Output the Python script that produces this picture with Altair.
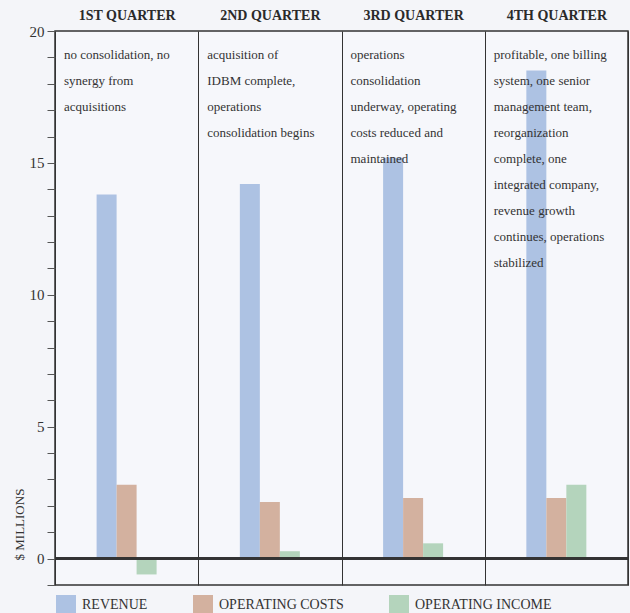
import altair as alt
import pandas as pd

quarters = ["1st Quarter", "2nd Quarter", "3rd Quarter", "4th Quarter"]
series = ["Revenue", "Operating Costs", "Operating Income"]
revenue = [13.8, 14.2, 15.2, 18.5]
op_costs = [2.8, 2.15, 2.3, 2.3]
op_income = [-0.6, 0.28, 0.58, 2.8]
notes = [
    "no consolidation, no\nsynergy from\nacquisitions",
    " acquisition of\nIDBM complete,\noperations\nconsolidation begins",
    "operations\nconsolidation\nunderway, operating\ncosts reduced and\nmaintained",
    "profitable, one billing\nsystem, one senior\nmanagement team,\nreorganization\ncomplete, one\nintegrated company,\nrevenue growth\ncontinues, operations\nstabilized",
]
colors = ["#adc2e3", "#d3b19f", "#b4d4bc"]

rows = []
for i, q in enumerate(quarters):
    for s, vals in zip(series, [revenue, op_costs, op_income]):
        rows.append({"quarter": q, "series": s, "value": vals[i]})
bars_df = pd.DataFrame(rows)
notes_df = pd.DataFrame({"quarter": quarters, "note": notes})

FONT = "Liberation Serif"

xscale = alt.Scale(domain=quarters, paddingInner=0, paddingOuter=0)
yscale = alt.Scale(domain=[-1, 20], nice=False, zero=False)

bars = alt.Chart(bars_df).mark_bar().encode(
    x=alt.X("quarter:N", scale=xscale, sort=quarters,
            axis=alt.Axis(orient="top", title=None, ticks=False, domain=False,
                          grid=True, tickBand="extent", gridColor="#333333",
                          gridOpacity=1, gridWidth=1, labelAngle=0,
                          labelExpr="upper(datum.label)", labelFont=FONT,
                          labelFontSize=14, labelFontWeight="bold",
                          labelColor="#2a2a2a", labelPadding=9)),
    xOffset=alt.XOffset("series:N", sort=series,
                        scale=alt.Scale(paddingInner=0, paddingOuter=0,
                                        range=[41.6, 101.6])),
    y=alt.Y("value:Q", scale=yscale,
            axis=alt.Axis(title="$ MILLIONS", values=list(range(-1, 21)),
                          tickCount=40, format="d",
                          labelExpr="datum.value % 5 === 0 ? datum.label : ''",
                          labelOverlap=False, labelBound=False,
                          labelFlush=False,
                          grid=False, domain=False, tickSize=8,
                          tickColor="#555555", labelFont=FONT,
                          labelFontSize=15, labelColor="#333333",
                          labelPadding=3, titleFont=FONT, titleFontSize=13,
                          titleFontWeight="normal", titleColor="#333333",
                          titleAngle=270, titleAlign="left",
                          titleBaseline="middle", titleX=-36, titleY=529)),
    color=alt.Color("series:N", sort=series,
                    scale=alt.Scale(domain=series, range=colors),
                    legend=alt.Legend(orient="none", legendX=1, legendY=564,
                                      direction="horizontal", title=None,
                                      symbolType="square", symbolSize=400,
                                      symbolStrokeWidth=0, symbolOpacity=1,
                                      labelExpr="upper(datum.label)",
                                      labelFont=FONT, labelFontSize=14,
                                      labelColor="#333333", labelOffset=6,
                                      columnPadding=45)),
)

zero = alt.Chart(bars_df).mark_rule(color="#333333", strokeWidth=1.5).encode(
    y=alt.datum(0, scale=yscale)
)

text = alt.Chart(notes_df).mark_text(
    align="left", baseline="top", lineBreak="\n", lineHeight=26,
    font=FONT, fontSize=13, color="#333333", dx=9, dy=18
).encode(
    x=alt.X("quarter:N", scale=xscale, sort=quarters, bandPosition=0),
    y=alt.datum(20),
    text="note:N",
)

chart = alt.layer(bars, zero, text).properties(
    width=573, height=554,
    autosize=alt.AutoSizeParams(type="none"),
    padding={"left": 55, "top": 31, "right": 2, "bottom": 28},
    background="#f4f5f9",
).configure_view(stroke="#333333", strokeWidth=1.5, fill="#f6f7fb")

chart.save("out.html", embed_options={"renderer": "svg", "actions": False})
